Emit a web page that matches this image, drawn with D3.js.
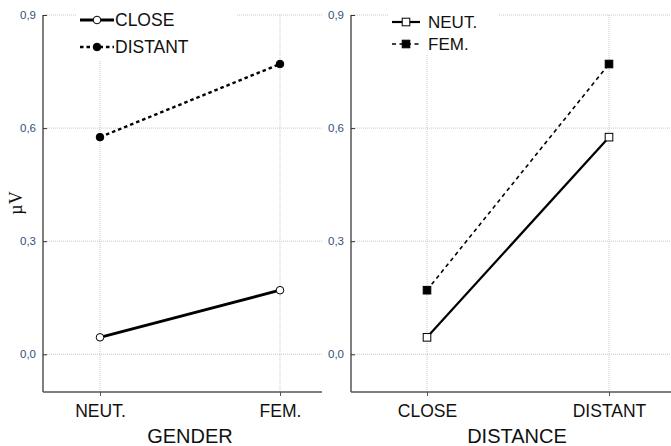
<!DOCTYPE html>
<html><head><meta charset="utf-8">
<script src="https://cdn.jsdelivr.net/npm/d3@7"></script>
<style>body{margin:0;background:#fff}svg{display:block}</style>
</head><body>
<svg id="c" width="671" height="446"></svg>
<script>
const genderCats = ["NEUT.", "FEM."];
const distanceCats = ["CLOSE", "DISTANT"];
const yTicks = [0, 0.3, 0.6, 0.9];
const yTickLabels = ["0,0", "0,3", "0,6", "0,9"];
// mean amplitude (µV) per gender, one array per distance
const closeByGender = [0.045, 0.17];
const distantByGender = [0.576, 0.77];
// the same means per distance, one array per gender
const neutByDistance = [0.045, 0.576];
const femByDistance = [0.17, 0.77];

const svg = d3.select("#c");
const y = d3.scaleLinear().domain([-0.1, 0.9]).range([392, 15]);
const sans = "Arial, Liberation Sans, sans-serif";

function panel(opt) {
  const g = svg.append("g");
  const x = d3.scalePoint().domain(opt.cats).range(opt.xr);
  // grid
  g.selectAll(".hg").data(yTicks).join("line")
    .attr("x1", opt.x0).attr("x2", opt.x1)
    .attr("y1", d => y(d)).attr("y2", d => y(d))
    .attr("stroke", "#c8c8c8").attr("stroke-width", 1).attr("stroke-dasharray", "1,1");
  g.selectAll(".vg").data(opt.cats).join("line")
    .attr("x1", d => x(d)).attr("x2", d => x(d))
    .attr("y1", y(-0.1)).attr("y2", y(0.9))
    .attr("stroke", "#c8c8c8").attr("stroke-width", 1).attr("stroke-dasharray", "1,1");
  // axes
  const ya = g.append("g").attr("transform", `translate(${opt.x0},0)`)
    .call(d3.axisLeft(y).tickValues(yTicks).tickFormat((d, i) => yTickLabels[i]).tickSize(-4).tickPadding(7));
  ya.select(".domain").attr("stroke", "#555").attr("stroke-width", 1.5).attr("d", `M0,${y(0.9)}V${y(-0.1)}`);
  ya.selectAll(".tick line").attr("stroke", "#333");
  ya.selectAll("text").attr("font-family", sans).attr("font-size", 11.5).attr("fill", "#34507a");
  const xa = g.append("g").attr("transform", `translate(0,${y(-0.1)})`)
    .call(d3.axisBottom(x).tickSize(4).tickPadding(9));
  xa.select(".domain").attr("stroke", "#555").attr("stroke-width", 1.5).attr("d", `M${opt.x0},0H${opt.x1}`);
  xa.selectAll(".tick line").attr("stroke", "#555");
  xa.selectAll("text").attr("font-family", sans).attr("font-size", 17.5).attr("fill", "#111");
  g.append("text").attr("x", opt.titleX).attr("y", 443).attr("text-anchor", "middle")
    .attr("font-family", sans).attr("font-size", 20).attr("fill", "#111").text(opt.title);

  // legend backdrop (hides grid beneath the key)
  g.append("rect").attr("x", opt.leg.x - 4).attr("y", 0).attr("width", opt.leg.w).attr("height", opt.leg.h).attr("fill", "#fff");

  opt.series.forEach((s, si) => {
    const line = d3.line().x((d, i) => x(opt.cats[i])).y(d => y(d));
    g.append("path").datum(s.values).attr("d", line).attr("fill", "none")
      .attr("stroke", "#000").attr("stroke-width", s.width).attr("stroke-dasharray", s.dash);
    const pts = s.values.map((v, i) => [x(opt.cats[i]), y(v)]);
    drawMarkers(g, pts, s);
    // legend entry
    const ly = opt.leg.y + si * opt.leg.dy;
    g.append("line").attr("x1", opt.leg.x).attr("x2", opt.leg.x + opt.leg.len).attr("y1", ly).attr("y2", ly)
      .attr("stroke", "#000").attr("stroke-width", s.width).attr("stroke-dasharray", s.dash);
    drawMarkers(g, [[opt.leg.x + opt.leg.len / 2, ly]], s);
    g.append("text").attr("x", opt.leg.x + opt.leg.len + opt.leg.gap).attr("y", ly + 6)
      .attr("font-family", sans).attr("font-size", opt.leg.fs).attr("fill", "#111").text(s.name);
  });
}

function drawMarkers(g, pts, s) {
  if (s.shape === "circle") {
    g.selectAll(null).data(pts).join("circle")
      .attr("cx", d => d[0]).attr("cy", d => d[1]).attr("r", 3.8)
      .attr("fill", s.fill).attr("stroke", "#000").attr("stroke-width", 1);
  } else {
    g.selectAll(null).data(pts).join("rect")
      .attr("x", d => d[0] - 3.8).attr("y", d => d[1] - 3.8).attr("width", 7.6).attr("height", 7.6)
      .attr("fill", s.fill).attr("stroke", "#000").attr("stroke-width", 1);
  }
}

panel({
  cats: genderCats, xr: [100, 280], x0: 43, x1: 322, title: "GENDER", titleX: 190,
  leg: { x: 80, y: 20, dy: 27, len: 34, gap: 1, fs: 17.5, w: 160, h: 60 },
  series: [
    { name: "CLOSE", values: closeByGender, shape: "circle", fill: "#fff", width: 2.8, dash: null },
    { name: "DISTANT", values: distantByGender, shape: "circle", fill: "#000", width: 2.4, dash: "3.5,3" }
  ]
});
panel({
  cats: distanceCats, xr: [427, 609], x0: 351, x1: 671, title: "DISTANCE", titleX: 517,
  leg: { x: 392, y: 22, dy: 22, len: 28, gap: 8, fs: 17, w: 110, h: 55 },
  series: [
    { name: "NEUT.", values: neutByDistance, shape: "square", fill: "#fff", width: 2.2, dash: null },
    { name: "FEM.", values: femByDistance, shape: "square", fill: "#000", width: 1.6, dash: "4,3.5" }
  ]
});

// shared y-axis title
svg.append("text").attr("transform", "translate(22,203) rotate(-90)").attr("text-anchor", "middle")
  .attr("font-family", "Times New Roman, Liberation Serif, serif").attr("font-size", 18).attr("fill", "#111").text("µV");
</script>
</body></html>
